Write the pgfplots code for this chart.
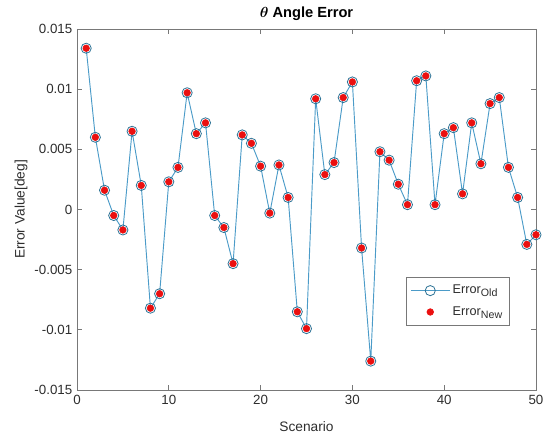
\documentclass[border=0pt]{standalone}
\usepackage{fontspec}
\setmainfont{Liberation Sans}
\usepackage{bm}
\usepackage{pgfplots}
\pgfplotsset{compat=1.18}
\definecolor{oldline}{RGB}{75,155,200}
\definecolor{oldmark}{RGB}{45,115,150}
\definecolor{newred}{RGB}{235,15,15}
\definecolor{axgray}{RGB}{120,120,120}
\definecolor{txtgray}{RGB}{45,45,45}

\pgfplotstableread{
x y
1 0.0134
2 0.0060
3 0.0016
4 -0.0005
5 -0.0017
6 0.0065
7 0.0020
8 -0.0082
9 -0.0070
10 0.0023
11 0.0035
12 0.0097
13 0.0063
14 0.0072
15 -0.0005
16 -0.0015
17 -0.0045
18 0.0062
19 0.0055
20 0.0036
21 -0.0003
22 0.0037
23 0.0010
24 -0.0085
25 -0.0099
26 0.0092
27 0.0029
28 0.0039
29 0.0093
30 0.0106
31 -0.0032
32 -0.0126
33 0.0048
34 0.0041
35 0.0021
36 0.0004
37 0.0107
38 0.0111
39 0.0004
40 0.0063
41 0.0068
42 0.0013
43 0.0072
44 0.0038
45 0.0088
46 0.0093
47 0.0035
48 0.0010
49 -0.0029
50 -0.0021
}\errdata

\newcommand{\tickfont}{\fontsize{10}{12}\selectfont\color{txtgray}}
\newcommand{\legfont}{\fontsize{9.5}{11}\selectfont\color{txtgray}}
\newcommand{\labfont}{\fontsize{10.3}{13}\selectfont\color{txtgray}}
\newcommand{\sub}[1]{\raisebox{-0.45ex}{\fontsize{8}{9}\selectfont #1}}

\begin{document}
\begin{tikzpicture}
% page: 544x434 px at 0.75 pt/px, axis box at (77,29)-(536,390) px
\useasboundingbox (-57.75pt,-33pt) rectangle (350.25pt,292.5pt);
\begin{axis}[
  at={(0pt,0pt)}, anchor=south west,
  scale only axis,
  width=344.25pt, height=270.75pt,
  xmin=0, xmax=50, ymin=-0.015, ymax=0.015,
  xtick={0,10,20,30,40,50},
  xticklabels={0,10,20,30,40,50},
  ytick={-0.015,-0.01,-0.005,0,0.005,0.01,0.015},
  yticklabels={-0.015,-0.01,-0.005,0,0.005,0.01,0.015},
  scaled y ticks=false,
  tick label style={font=\tickfont},
  axis line style={axgray, line width=0.6pt},
  tick style={axgray, line width=0.6pt},
  major tick length=3.8pt,
  tick align=inside,
  xlabel={Scenario},
  ylabel={Error Value[deg]},
  label style={font=\labfont},
  xlabel style={at={(axis description cs:0.5,0)}, anchor=center,
    yshift=-27.8pt},
  ylabel style={at={(axis description cs:0,0.5)}, anchor=center,
    yshift=42pt},
  title={$\bm{\theta}$ \textbf{Angle Error}},
  title style={font=\fontsize{11}{13}\selectfont, at={(axis description cs:0.5,1)},
    anchor=center, yshift=5.3pt},
  legend style={at={(0.943,0.313)}, anchor=north east,
    draw=axgray, font=\legfont, inner xsep=3.5pt, inner ysep=4pt,
    row sep=4pt},
  legend cell align=left,
  legend image code/.code={
    \draw[mark repeat=2, mark phase=2]
      plot coordinates {(0cm,0cm) (0.51cm,0cm) (1.02cm,0cm)};},
]
\addplot[oldline, line width=0.7pt, mark=o, mark size=3.8pt,
  mark options={draw=oldmark, line width=0.6pt}]
  table[x=x, y=y] {\errdata};
\addlegendentry{Error\sub{Old}}
\addplot[only marks, mark=*, mark size=2.5pt, newred,
  mark options={draw=newred, fill=newred}]
  table[x=x, y=y] {\errdata};
\addlegendentry{Error\sub{New}}
\end{axis}
\end{tikzpicture}
\end{document}
